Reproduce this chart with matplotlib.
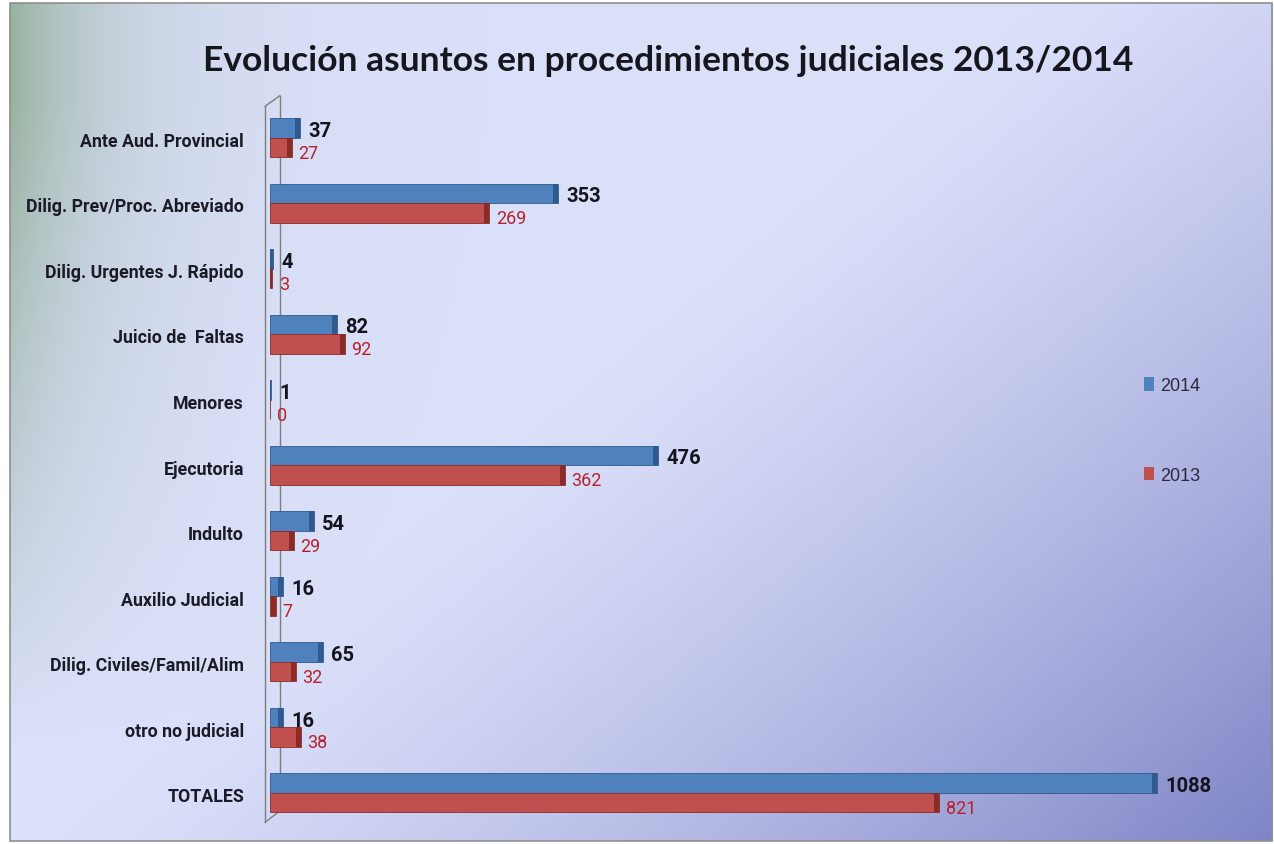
import numpy as np
import matplotlib.pyplot as plt
from matplotlib.patches import Patch, Rectangle

# Data
CATEGORIES = [
    "Ante Aud. Provincial",
    "Dilig. Prev/Proc. Abreviado",
    "Dilig. Urgentes J. Rápido",
    "Juicio de  Faltas",
    "Menores",
    "Ejecutoria",
    "Indulto",
    "Auxilio Judicial",
    "Dilig. Civiles/Famil/Alim",
    "otro no judicial",
    "TOTALES",
]
VALUES_2014 = [37, 353, 4, 82, 1, 476, 54, 16, 65, 16, 1088]
VALUES_2013 = [27, 269, 3, 92, 0, 362, 29, 7, 32, 38, 821]
SERIES_LABELS = ["2014", "2013"]

BLUE, BLUE_DARK = "#4f81bd", "#2f5a8f"
RED, RED_DARK = "#c0504d", "#8a2b28"
FONT = ["Roboto", "DejaVu Sans"]

W, H = 1274, 845
fig = plt.figure(figsize=(W / 100, H / 100), dpi=100)
fig.patch.set_facecolor("white")

# gradient background (greenish left, lavender centre, purple bottom-right)
ny, nx = 200, 320
yy, xx = np.mgrid[0:1:ny * 1j, 0:1:nx * 1j]
base = np.array([0.86, 0.88, 0.98])
green = np.array([0.60, 0.70, 0.63])
purple = np.array([0.50, 0.52, 0.78])
g_w = np.exp(-xx / 0.08) * np.clip(1.15 - yy * 1.3, 0, 1)
p_w = np.clip((xx * 0.9 + yy * 0.7 - 0.72) / 0.88, 0, 1) ** 1.3
img = base[None, None, :] * (1 - g_w[..., None]) + green * g_w[..., None]
img = img * (1 - p_w[..., None]) + purple * p_w[..., None]
bg = fig.add_axes([10 / W, 3 / H, 1262 / W, 838 / H], zorder=0)
bg.imshow(img, extent=[0, 1, 0, 1], aspect="auto", origin="upper", interpolation="bilinear")
bg.axis("off")
fig.patches.append(Rectangle((10 / W, 3 / H), 1262 / W, 838 / H, transform=fig.transFigure,
                             fill=False, edgecolor="#8f8f8f", linewidth=1.2, zorder=1))

fig.text(668 / W, 1 - 61 / H, "Evolución asuntos en procedimientos judiciales 2013/2014",
         ha="center", va="center", fontsize=25.5, family="Lato", fontweight="bold",
         color="#16161e", zorder=5)

ax = fig.add_axes([255 / W, 15 / H, 985 / W, 740 / H], zorder=2)
ax.set_facecolor("none")
n = len(CATEGORIES)
y = np.arange(n)
h = 0.3
y_blue = y - 0.17
y_red = y + 0.13

ax.barh(y_blue, VALUES_2014, height=h, color=BLUE, edgecolor=BLUE_DARK, linewidth=0.6, zorder=3)
ax.barh(y_red, VALUES_2013, height=h, color=RED, edgecolor=RED_DARK, linewidth=0.6, zorder=3)
cap14 = np.minimum(VALUES_2014, 6)
cap13 = np.minimum(VALUES_2013, 6)
ax.barh(y_blue, cap14, left=np.array(VALUES_2014) - cap14, height=h, color=BLUE_DARK, zorder=4)
ax.barh(y_red, cap13, left=np.array(VALUES_2013) - cap13, height=h, color=RED_DARK, zorder=4)

for yi, v in zip(y_blue, VALUES_2014):
    ax.text(v + 10, yi + 0.04, str(v), ha="left", va="center", fontsize=14.5,
            fontweight="bold", family=FONT, color="#14141e", zorder=5)
for yi, v in zip(y_red, VALUES_2013):
    ax.text(v + 8, yi + 0.08, str(v), ha="left", va="center", fontsize=13,
            family=FONT, color="#b8202e", zorder=5)

# 3D wall at the category axis
front, back = -6, 12
top_f, top_b = -0.5, -0.66
bot_f, bot_b = n - 0.57, n - 0.74
ax.plot([front, front], [top_f, bot_f], color="#7d7d7d", lw=1, zorder=2, clip_on=False)
ax.plot([back, back], [top_b, bot_b], color="#7d7d7d", lw=1, zorder=2, clip_on=False)
ax.plot([front, back], [top_f, top_b], color="#7d7d7d", lw=1, zorder=2, clip_on=False)
ax.plot([front, back], [bot_f, bot_b], color="#7d7d7d", lw=1, zorder=2, clip_on=False)

ax.set_xlim(-18.4, 1190)
ax.set_ylim(10.534, -0.763)
ax.set_yticks(y)
ax.set_yticklabels(CATEGORIES, family=FONT, fontsize=12.8, fontweight="bold", color="#1b1b28")
ax.tick_params(axis="y", length=0, pad=8)
ax.set_xticks([])
for s in ax.spines.values():
    s.set_visible(False)

handles = [Patch(facecolor=BLUE), Patch(facecolor=RED)]
leg = fig.legend(handles, SERIES_LABELS, loc="upper left", bbox_to_anchor=(1128 / W, 1 - 362 / H),
                 frameon=False, labelspacing=4.0, handlelength=0.55, handleheight=0.8,
                 handletextpad=0.35, prop={"family": "Liberation Sans", "size": 13})
for t in leg.get_texts():
    t.set_color("#2a2a40")

fig.savefig("out.png", dpi=100, facecolor=fig.get_facecolor())
